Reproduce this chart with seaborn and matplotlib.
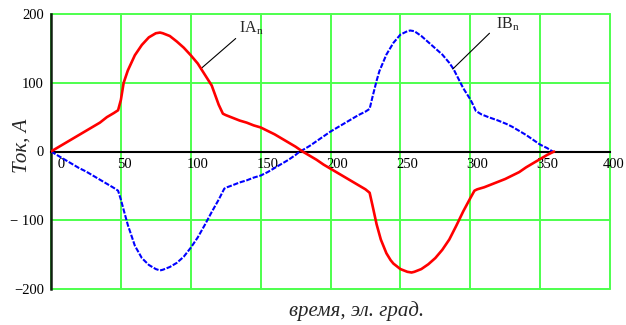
import numpy as np
import pandas as pd
import matplotlib
matplotlib.use("Agg")
import matplotlib.pyplot as plt
import seaborn as sns
from matplotlib.transforms import ScaledTranslation

# ---- data ----
ia_deg = [0, 5, 10, 15, 20, 25, 30, 35, 40, 45, 48, 50, 52, 55, 60, 65, 70, 75, 78, 80,
          85, 90, 95, 100, 105, 110, 115, 120, 123, 125, 130, 135, 140, 145, 150, 155, 160,
          165, 170, 175, 180, 185, 190, 195, 200, 205, 210, 215, 220, 225, 228, 230, 233,
          236, 240, 243, 245, 250, 255, 258, 260, 265, 270, 275, 280, 285, 290, 295, 300,
          303, 305, 310, 315, 320, 325, 330, 335, 340, 345, 350, 355, 360]
ia_val = [0, 6, 12, 18, 24, 30, 36, 42, 50, 56, 60, 75, 100, 118, 140, 155, 166, 172, 173, 172,
          168, 160, 151, 140, 128, 112, 96, 68, 55, 53, 49, 45, 42, 38, 35, 30, 25,
          19, 13, 7, 0, -6, -12, -19, -25, -31, -37, -43, -49, -55, -60, -78, -106,
          -128, -148, -158, -163, -171, -175, -176, -175, -171, -164, -155, -143, -128, -108, -87, -68,
          -57, -55, -52, -48, -44, -40, -35, -30, -23, -17, -11, -5, 0]

ib_deg = [0, 5, 10, 15, 20, 25, 30, 35, 40, 45, 48, 50, 52, 55, 60, 65, 70, 75, 78, 80,
          85, 90, 95, 100, 105, 110, 115, 120, 124, 126, 130, 135, 140, 145, 150, 155, 160,
          165, 170, 175, 178, 180, 185, 190, 195, 200, 205, 210, 215, 220, 225, 228, 230,
          233, 235, 240, 245, 250, 255, 257, 260, 265, 270, 275, 280, 285, 288, 290, 295,
          300, 302, 304, 308, 313, 320, 326, 330, 335, 340, 345, 350, 355, 359]
ib_val = [0, -6, -12, -18, -24, -29, -35, -41, -47, -53, -57, -70, -85, -107, -137, -155, -165, -171, -173, -172,
          -168, -162, -153, -140, -125, -107, -88, -70, -54, -52, -49, -45, -42, -38, -35, -30, -24,
          -18, -12, -5, 0, 2, 8, 15, 22, 29, 35, 41, 47, 53, 58, 62, 79,
          103, 117, 141, 158, 170, 175, 176, 175, 168, 159, 150, 141, 129, 120, 112, 92,
          76, 68, 59, 54, 50, 45, 40, 36, 30, 24, 17, 10, 5, 0]

x_ticks = [0, 50, 100, 150, 200, 250, 300, 350, 400]
x_tick_labels = ["   0", "50", "100", "150", "200", "250", "300", "350", "400"]
y_ticks = [-200, -100, 0, 100, 200]
y_tick_labels = ["\u2212200", "\u2212 100", "0", "100", "200"]

ia = pd.DataFrame({"deg": ia_deg, "val": ia_val})
ib = pd.DataFrame({"deg": ib_deg, "val": ib_val})

sns.set_style("white")
plt.rcParams["font.family"] = ["Liberation Serif", "DejaVu Serif"]
plt.rcParams["mathtext.fontset"] = "custom"
plt.rcParams["mathtext.rm"] = "Liberation Serif"
plt.rcParams["mathtext.it"] = "Liberation Serif:italic"

fig = plt.figure(figsize=(6.26, 3.25), dpi=100)
ax = fig.add_axes([51 / 626, 1 - 289 / 325, 559 / 626, 275 / 325])

sns.lineplot(data=ia, x="deg", y="val", color="#ff0000", lw=1.9, ax=ax,
             sort=False, estimator=None, zorder=4)
sns.lineplot(data=ib, x="deg", y="val", color="#0000ff", lw=1.5, ax=ax,
             sort=False, estimator=None, zorder=3)
ax.lines[-1].set_dashes((2.5, 0.8))

for s in ["top", "right"]:
    ax.spines[s].set_visible(False)
ax.spines["bottom"].set_position(("data", 0))
ax.spines["bottom"].set_color("black")
ax.spines["bottom"].set_linewidth(1.5)
ax.spines["left"].set_color("#102010")
ax.spines["left"].set_linewidth(1.8)

ax.set_xlim(0, 400)
ax.set_ylim(-200, 200)
ax.set_xticks(x_ticks)
ax.set_xticklabels(x_tick_labels)
ax.set_yticks(y_ticks)
ax.set_yticklabels(y_tick_labels)

ax.tick_params(axis="x", direction="inout", length=8, width=1.2, pad=1,
               labelsize=10.5, colors="black")
ax.tick_params(axis="y", direction="inout", length=8, width=1.2, pad=1,
               labelsize=10.5, colors="black")
xlabels = ax.get_xticklabels()
for i, lbl in enumerate(xlabels):
    dx = -7 if i == len(xlabels) - 1 else -4
    lbl.set_horizontalalignment("left")
    lbl.set_transform(lbl.get_transform() + ScaledTranslation(dx / 100, 0, fig.dpi_scale_trans))

ax.grid(True, color="#4dff4d", lw=1.4)
ax.set_axisbelow(True)
for gl in ax.get_xgridlines() + ax.get_ygridlines():
    gl.set_clip_on(False)

ax.set_xlabel("время, эл. град.", fontsize=15, style="italic")
ax.set_ylabel("Ток, А", fontsize=15, style="italic")
ax.xaxis.set_label_coords(0.547, -0.045)
ax.yaxis.set_label_coords(-0.035, 0.52)

ax.annotate("IA$_\\mathrm{n}$", xy=(107, 120), xytext=(134.5, 166),
            ha="left", va="bottom", fontsize=11.5,
            arrowprops=dict(arrowstyle="-", color="black", lw=0.8,
                            shrinkA=0, shrinkB=0, relpos=(-0.08, 0)))
ax.annotate("IB$_\\mathrm{n}$", xy=(287.5, 120), xytext=(318.5, 172),
            ha="left", va="bottom", fontsize=11.5,
            arrowprops=dict(arrowstyle="-", color="black", lw=0.8,
                            shrinkA=0, shrinkB=0, relpos=(-0.28, 0)))

fig.savefig("out.png", dpi=100)
